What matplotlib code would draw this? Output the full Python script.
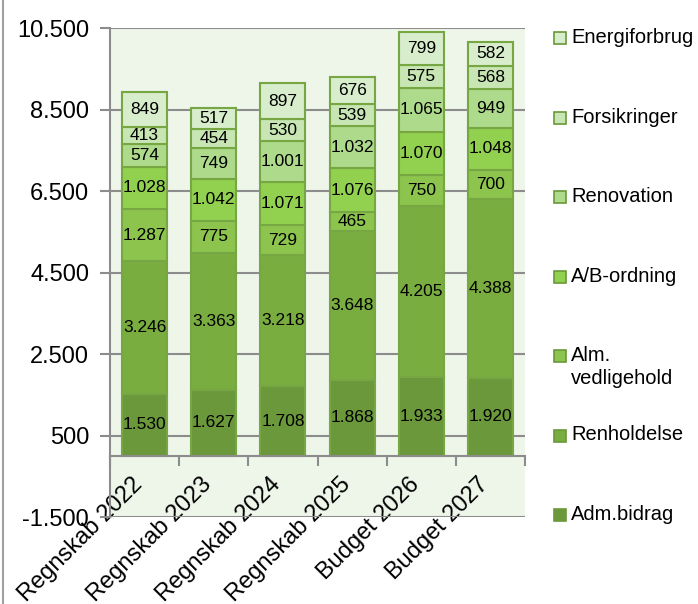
import matplotlib
matplotlib.use("Agg")
from matplotlib import pyplot as plt
from matplotlib.patches import Rectangle
from matplotlib.lines import Line2D
from matplotlib.ticker import FuncFormatter
from matplotlib.transforms import ScaledTranslation

plt.rcParams['font.family'] = ['Liberation Sans', 'DejaVu Sans']

categories = ['Regnskab 2022', 'Regnskab 2023', 'Regnskab 2024',
              'Regnskab 2025', 'Budget 2026', 'Budget 2027']
series_names = ['Adm.bidrag', 'Renholdelse', 'Alm.\nvedligehold', 'A/B-ordning',
                'Renovation', 'Forsikringer', 'Energiforbrug']
adm_bidrag = [1530, 1627, 1708, 1868, 1933, 1920]
renholdelse = [3246, 3363, 3218, 3648, 4205, 4388]
alm_vedligehold = [1287, 775, 729, 465, 750, 700]
ab_ordning = [1028, 1042, 1071, 1076, 1070, 1048]
renovation = [574, 749, 1001, 1032, 1065, 949]
forsikringer = [413, 454, 530, 539, 575, 568]
energiforbrug = [849, 517, 897, 676, 799, 582]
yticks = [-1500, 500, 2500, 4500, 6500, 8500, 10500]

series = [adm_bidrag, renholdelse, alm_vedligehold, ab_ordning,
          renovation, forsikringer, energiforbrug]
colors = ['#6A983A', '#7AAD40', '#8CC44E', '#92D050',
          '#AEDA8C', '#C8E6B4', '#D8EDCC']


def dk(v):
    return f"{int(v):,}".replace(',', '.')


fig = plt.figure(figsize=(6.98, 6.04), dpi=100)
ax = fig.add_axes([0.1576, 0.144, 0.5946, 0.8096])
ax.set_facecolor('#EEF5E9')

x = list(range(len(categories)))
bottom = [0] * len(categories)
for vals, col in zip(series, colors):
    bars = ax.bar(x, vals, 0.65, bottom=bottom, color=col,
                  edgecolor='#76A743', linewidth=1.5, zorder=3)
    for b, v in zip(bars, vals):
        ax.text(b.get_x() + b.get_width() / 2, b.get_y() + v / 2, dk(v),
                ha='center', va='center', fontsize=12.5, color='black', zorder=4)
    bottom = [b + v for b, v in zip(bottom, vals)]

ax.set_xlim(-0.5, 5.5)
ax.set_ylim(-1500, 10500)
ax.set_yticks(yticks)
ax.yaxis.set_major_formatter(FuncFormatter(lambda v, p: dk(v)))
ax.yaxis.grid(True, color='#8C8C8C', linewidth=1.5, zorder=1)
ax.set_axisbelow(True)

for s in ['top', 'right']:
    ax.spines[s].set_visible(False)
ax.spines['left'].set_color('#8C8C8C')
ax.spines['left'].set_linewidth(1.5)
ax.spines['bottom'].set_position(('data', 0))
ax.spines['bottom'].set_color('#8C8C8C')
ax.spines['bottom'].set_linewidth(1.5)
ax.spines['bottom'].set_zorder(5)

ax.tick_params(axis='y', length=7, width=1.5, color='#8C8C8C', labelsize=17, pad=8)
ax.set_xticks(x)
ax.set_xticklabels(categories, rotation=45, ha='right', rotation_mode='anchor',
                   fontsize=17)
ax.set_xticks([i - 0.5 for i in range(len(categories) + 1)], minor=True)
ax.tick_params(axis='x', which='major', length=0, pad=14)
ax.tick_params(axis='x', which='minor', length=7, width=1.5, color='#8C8C8C')
shift = ScaledTranslation(-0.13, 0.02, fig.dpi_scale_trans)
for lbl in ax.get_xticklabels():
    lbl.set_transform(lbl.get_transform() + shift)

# legend, top entry first
W, H = 698, 604
for i, (name, col) in enumerate(zip(series_names[::-1], colors[::-1])):
    yc = 38 + 79.5 * i
    fig.patches.append(Rectangle((554 / W, 1 - (yc + 6) / H), 12 / W, 12 / H,
                                 transform=fig.transFigure, facecolor=col,
                                 edgecolor='#6A983A', linewidth=1.2))
    fig.text(571 / W, 1 - (yc - 10) / H, name, ha='left', va='top',
             fontsize=14.5, linespacing=1.25)

fig.lines.append(Line2D([3 / W, 3 / W], [0, 1], transform=fig.transFigure,
                        color='#A0A0A0', linewidth=1.5))

fig.savefig('out.png', dpi=100)
